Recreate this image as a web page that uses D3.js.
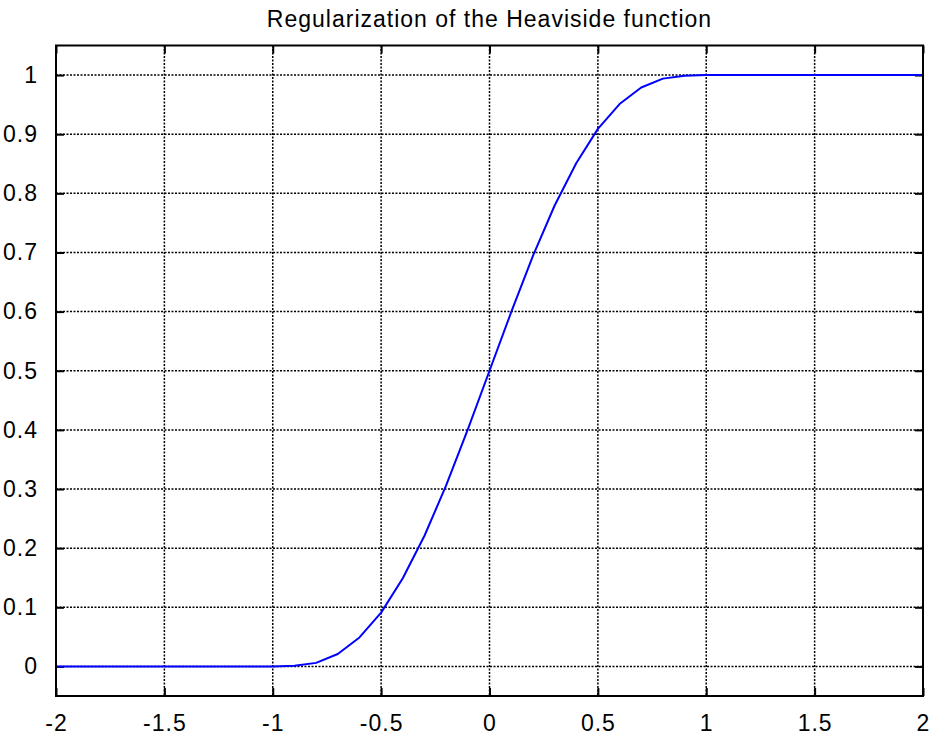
<!DOCTYPE html>
<html>
<head>
<meta charset="utf-8">
<script src="https://cdn.jsdelivr.net/npm/d3@7"></script>
<style>
  body { margin: 0; background: #fff; }
  svg { display: block; }
  text { font-family: "Liberation Sans", Arial, Helvetica, sans-serif; }
</style>
</head>
<body>
<svg id="chart"></svg>
<script>
let chart_title = "Regularization of the Heaviside function"

// x samples (step 0.1) and the regularized Heaviside values
let x_values = [-2, -1.9, -1.8, -1.7, -1.6, -1.5, -1.4, -1.3, -1.2, -1.1,
    -1, -0.9, -0.8, -0.7, -0.6, -0.5, -0.4, -0.3, -0.2, -0.1,
    0, 0.1, 0.2, 0.3, 0.4, 0.5, 0.6, 0.7, 0.8, 0.9,
    1, 1.1, 1.2, 1.3, 1.4, 1.5, 1.6, 1.7, 1.8, 1.9, 2]
let y_values = [0, 0, 0, 0, 0, 0, 0, 0, 0, 0,
    0, 0.001, 0.006, 0.021, 0.049, 0.091, 0.149, 0.221, 0.306, 0.401,
    0.5, 0.599, 0.694, 0.779, 0.851, 0.909, 0.951, 0.979, 0.994, 0.999,
    1, 1, 1, 1, 1, 1, 1, 1, 1, 1, 1]

let x_ticks = [-2, -1.5, -1, -0.5, 0, 0.5, 1, 1.5, 2]
let y_ticks = [0, 0.1, 0.2, 0.3, 0.4, 0.5, 0.6, 0.7, 0.8, 0.9, 1]
let x_domain = [-2, 2]
let y_domain = [-0.05, 1.05]

const width = 939
const height = 740
const margin = {top: 45.5, right: 16, bottom: 44, left: 56}
const inner_w = width - margin.left - margin.right
const inner_h = height - margin.top - margin.bottom
const tick_len = 8
const font_size = "23px"

const svg = d3.select("#chart")
    .attr("width", width)
    .attr("height", height)

const x = d3.scaleLinear().domain(x_domain).range([0, inner_w])
const y = d3.scaleLinear().domain(y_domain).range([inner_h, 0])

const g = svg.append("g")
    .attr("transform", `translate(${margin.left},${margin.top})`)

// dotted grid
g.append("g")
    .selectAll("line")
    .data(x_ticks.filter(d => d > x_domain[0] && d < x_domain[1]))
    .join("line")
        .attr("x1", d => x(d)).attr("x2", d => x(d))
        .attr("y1", 0).attr("y2", inner_h)
        .attr("stroke", "#000")
        .attr("stroke-width", 1.5)
        .attr("stroke-dasharray", "2,1.5")

g.append("g")
    .selectAll("line")
    .data(y_ticks)
    .join("line")
        .attr("x1", 0).attr("x2", inner_w)
        .attr("y1", d => y(d)).attr("y2", d => y(d))
        .attr("stroke", "#000")
        .attr("stroke-width", 1.5)
        .attr("stroke-dasharray", "2,1.5")

// axes, ticks point inward like matlab, plain "-" in labels
const fmt = d => String(d)
const x_bottom = d3.axisBottom(x).tickValues(x_ticks).tickSizeInner(-tick_len).tickSizeOuter(0).tickPadding(tick_len + 11).tickFormat(fmt)
const x_top = d3.axisTop(x).tickValues(x_ticks).tickSizeInner(-tick_len).tickSizeOuter(0).tickFormat("")
const y_left = d3.axisLeft(y).tickValues(y_ticks).tickSizeInner(-tick_len).tickSizeOuter(0).tickPadding(tick_len + 10).tickFormat(fmt)
const y_right = d3.axisRight(y).tickValues(y_ticks).tickSizeInner(-tick_len).tickSizeOuter(0).tickFormat("")

function style_axis(sel) {
    sel.select(".domain").remove()
    sel.selectAll(".tick line").attr("stroke", "#000").attr("stroke-width", 2)
    sel.selectAll(".tick text")
        .attr("fill", "#000")
        .style("font-size", font_size)
        .style("letter-spacing", "1px")
}

g.append("g").attr("transform", `translate(0,${inner_h})`).call(x_bottom).call(style_axis)
g.append("g").call(x_top).call(style_axis)
g.append("g").call(y_left).call(style_axis)
g.append("g").attr("transform", `translate(${inner_w},0)`).call(y_right).call(style_axis)

// the curve
const line = d3.line()
    .x((d, i) => x(x_values[i]))
    .y(d => y(d))

g.append("path")
    .datum(y_values)
    .attr("fill", "none")
    .attr("stroke", "#0000ff")
    .attr("stroke-width", 2)
    .attr("stroke-linejoin", "round")
    .attr("d", line)

// box
g.append("rect")
    .attr("x", 0).attr("y", 0)
    .attr("width", inner_w).attr("height", inner_h)
    .attr("fill", "none")
    .attr("stroke", "#000")
    .attr("stroke-width", 2)

svg.append("text")
    .attr("x", margin.left + inner_w / 2)
    .attr("y", 27)
    .attr("text-anchor", "middle")
    .style("font-size", font_size)
    .style("letter-spacing", "1px")
    .attr("fill", "#000")
    .text(chart_title)
</script>
</body>
</html>
